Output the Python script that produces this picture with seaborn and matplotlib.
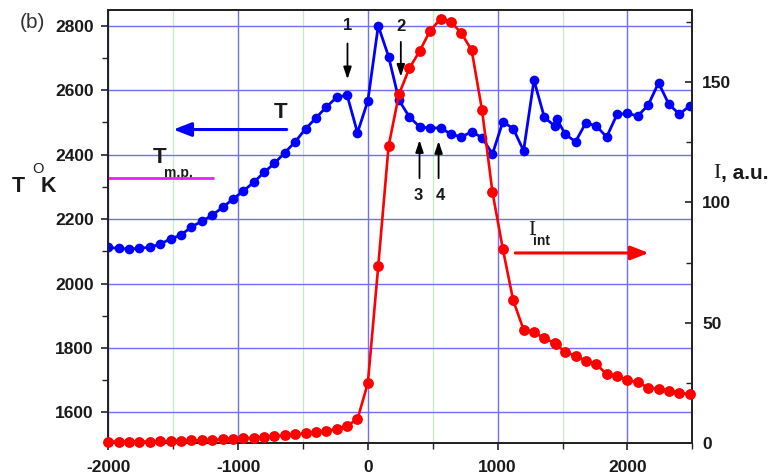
import matplotlib
matplotlib.use("Agg")
import matplotlib.pyplot as plt
from matplotlib.ticker import MultipleLocator
import pandas as pd
import seaborn as sns

# Surface temperature T (left axis) versus time
time_T = [-2000, -1920, -1840, -1760, -1680, -1600, -1520, -1440, -1360, -1280,
          -1200, -1120, -1040, -960, -880, -800, -720, -640, -560, -480,
          -400, -320, -240, -160, -80, 0, 80, 160, 240, 320,
          400, 480, 560, 640, 720, 800, 880, 960, 1040, 1120,
          1200, 1280, 1360, 1440, 1458, 1520, 1600, 1680, 1760, 1840,
          1920, 2000, 2080, 2160, 2240, 2320, 2400, 2480]
temp_T = [2112, 2109, 2107, 2109, 2113, 2122, 2139, 2150, 2176, 2193,
          2212, 2236, 2262, 2287, 2314, 2345, 2373, 2406, 2440, 2480,
          2514, 2548, 2578, 2585, 2468, 2567, 2800, 2704, 2569, 2517,
          2486, 2483, 2483, 2464, 2455, 2471, 2453, 2402, 2502, 2481,
          2412, 2631, 2516, 2489, 2510, 2464, 2440, 2499, 2489, 2455,
          2525, 2528, 2520, 2554, 2623, 2556, 2526, 2551]

# Integrated emission intensity I_int (right axis) versus time
time_I = [-2000, -1920, -1840, -1760, -1680, -1600, -1520, -1440, -1360, -1280,
          -1200, -1120, -1040, -960, -880, -800, -720, -640, -560, -480,
          -400, -320, -240, -160, -80, 0, 80, 160, 240, 320,
          400, 480, 560, 640, 720, 800, 880, 960, 1040, 1120,
          1200, 1280, 1360, 1440, 1452, 1520, 1600, 1680, 1760, 1840,
          1920, 2000, 2080, 2160, 2240, 2320, 2400, 2480]
intensity = [0.6, 0.6, 0.6, 0.6, 0.6, 0.7, 0.8, 1.0, 1.1, 1.1,
             1.25, 1.5, 1.8, 1.95, 2.2, 2.5, 2.9, 3.3, 3.6, 4.0,
             4.6, 5.1, 5.7, 7.2, 9.9, 24.9, 73.5, 123.5, 145.0, 155.8,
             163.0, 171.4, 176.3, 175.1, 170.4, 163.3, 138.3, 104.3, 80.7, 59.3,
             47.1, 46.0, 43.6, 41.5, 41.0, 37.8, 36.3, 34.2, 32.8, 28.6,
             28.0, 26.0, 25.3, 23.0, 22.5, 21.8, 20.9, 20.3]

# Melting point level and its extent
t_melt = 2326
melt_span = [-2000, -1185]

x_ticks = [-2000, -1000, 0, 1000, 2000]
y_ticks_T = [1600, 1800, 2000, 2200, 2400, 2600, 2800]
y_ticks_I = [0, 50, 100, 150]

df_T = pd.DataFrame({"t": time_T, "T": temp_T})
df_I = pd.DataFrame({"t": time_I, "I": intensity})

sns.set_theme(style="white")
plt.rcParams["font.family"] = ["Liberation Sans", "DejaVu Sans"]
plt.rcParams["axes.unicode_minus"] = False

W, H = 777, 475
fig = plt.figure(figsize=(W / 100, H / 100), dpi=100)
x0, x1, y0, y1 = 108.3, 692.3, 10, 443
ax = fig.add_axes([x0 / W, 1 - y1 / H, (x1 - x0) / W, (y1 - y0) / H])
ax2 = ax.twinx()

BLUE = "#0000ff"
RED = "#ff0000"

sns.lineplot(data=df_T, x="t", y="T", ax=ax, color=BLUE, marker="o",
             markersize=7.0, markeredgewidth=0, linewidth=2.0,
             estimator=None, zorder=3)
sns.lineplot(data=df_I, x="t", y="I", ax=ax2, color=RED, marker="o",
             markersize=7.8, markeredgewidth=0, linewidth=1.9,
             estimator=None, clip_on=False, zorder=3)

ax.set_xlim(-2000, 2500)
ax.set_ylim(1505, 2849)
ax2.set_ylim(0, 180)

ax.set_xticks(x_ticks)
ax.set_yticks(y_ticks_T)
ax2.set_yticks(y_ticks_I)
ax.xaxis.set_minor_locator(MultipleLocator(500))
ax.yaxis.set_minor_locator(MultipleLocator(100))
ax2.yaxis.set_minor_locator(MultipleLocator(25))

ax.set_xlabel("")
ax.set_ylabel("")
ax2.set_ylabel("")

# grid: blue major lines, pale green minor verticals
ax.grid(which="major", axis="both", color="#6f6fff", linewidth=1.0, zorder=0)
ax.grid(which="minor", axis="x", color="#c4ecc4", linewidth=0.9, zorder=0)
ax.set_axisbelow(True)
ax2.grid(False)

for a in (ax, ax2):
    for s in a.spines.values():
        s.set_visible(True)
        s.set_color("#222222")
        s.set_linewidth(1.3)

ax.tick_params(axis="x", which="major", direction="out", length=5, width=1.2,
               pad=7.5, bottom=True, top=False, colors="#222222")
ax.tick_params(axis="x", which="minor", direction="out", length=4, width=1.0,
               bottom=True, top=False, colors="#222222")
ax.tick_params(axis="y", which="major", direction="out", length=5, width=1.2,
               pad=5.5, left=True, right=False, colors="#222222")
ax.tick_params(axis="y", which="minor", direction="out", length=4, width=1.0,
               left=True, right=False, colors="#222222")
ax2.tick_params(axis="y", which="major", direction="in", length=5, width=1.2,
                pad=7, right=True, left=False, colors="#222222")
ax2.tick_params(axis="y", which="minor", direction="in", length=4, width=1.0,
                right=True, left=False, colors="#222222")
for lab in ax.get_xticklabels() + ax.get_yticklabels() + ax2.get_yticklabels():
    lab.set_fontsize(12.5)
    lab.set_fontweight("bold")
    lab.set_color("#1a1a1a")

# melting point level
ax.plot(melt_span, [t_melt, t_melt], color="#f01ee6", linewidth=2.0,
        solid_capstyle="butt", zorder=4)
ax.text(-1605, 2391, "T", fontsize=16, fontweight="bold", ha="center",
        va="center", color="#1a1a1a")
ax.text(-1459, 2344, "m.p.", fontsize=10, fontweight="bold", ha="center",
        va="center", color="#1a1a1a")

# temperature arrow (left axis)
ax.annotate("", xy=(-1499, 2478), xytext=(-625, 2478),
            arrowprops=dict(arrowstyle="-|>,head_length=0.9,head_width=0.35",
                            color=BLUE, lw=2.2, shrinkA=0, shrinkB=0), zorder=5)
ax.text(-675, 2532, "T", fontsize=16, fontweight="bold", ha="center",
        va="center", color="#1a1a1a")

# intensity arrow (right axis)
ax2.annotate("", xy=(2164, 79.0), xytext=(1136, 79.0),
             arrowprops=dict(arrowstyle="-|>,head_length=0.9,head_width=0.35",
                             color=RED, lw=2.2, shrinkA=0, shrinkB=0), zorder=5)
ax2.text(1262, 88.5, "I", fontsize=15, family=["Liberation Serif", "DejaVu Serif"],
         ha="center", va="center", color="#1a1a1a")
ax2.text(1340, 84.0, "int", fontsize=10, fontweight="bold", ha="center",
         va="center", color="#1a1a1a")

# numbered markers
thin = dict(arrowstyle="-|>,head_length=0.6,head_width=0.2", color="black",
            lw=1.3, shrinkA=0, shrinkB=0)
ax.annotate("", xy=(-157, 2634), xytext=(-157, 2745), arrowprops=thin, zorder=5)
ax.text(-157, 2802, "1", fontsize=12, fontweight="bold", ha="center",
        va="center", color="#1a1a1a")
ax.annotate("", xy=(254, 2642), xytext=(254, 2750), arrowprops=thin, zorder=5)
ax.text(254, 2797, "2", fontsize=12, fontweight="bold", ha="center",
        va="center", color="#1a1a1a")
ax.annotate("", xy=(398, 2445), xytext=(398, 2327), arrowprops=thin, zorder=5)
ax.text(385, 2274, "3", fontsize=12, fontweight="bold", ha="center",
        va="center", color="#1a1a1a")
ax.annotate("", xy=(545, 2442), xytext=(545, 2327), arrowprops=thin, zorder=5)
ax.text(557, 2274, "4", fontsize=12, fontweight="bold", ha="center",
        va="center", color="#1a1a1a")

# panel tag and axis titles
fig.text(32 / W, 1 - 22 / H, "(b)", fontsize=15, ha="center", va="center",
         color="#333333")
fig.text(18.5 / W, 1 - 186 / H, "T", fontsize=15.5, fontweight="bold",
         ha="center", va="center", color="#1a1a1a")
fig.text(37.5 / W, 1 - 169 / H, "O", fontsize=10.5, ha="center", va="center",
         color="#1a1a1a")
fig.text(48.5 / W, 1 - 186 / H, "K", fontsize=15.5, fontweight="bold",
         ha="center", va="center", color="#1a1a1a")
fig.text(713 / W, 1 - 173 / H, "I", fontsize=16,
         family=["Liberation Serif", "DejaVu Serif"], ha="left", va="center",
         color="#1a1a1a")
fig.text(721 / W, 1 - 173 / H, ", a.u.", fontsize=15, fontweight="bold",
         ha="left", va="center", color="#1a1a1a")

fig.savefig("out.png", dpi=100)
